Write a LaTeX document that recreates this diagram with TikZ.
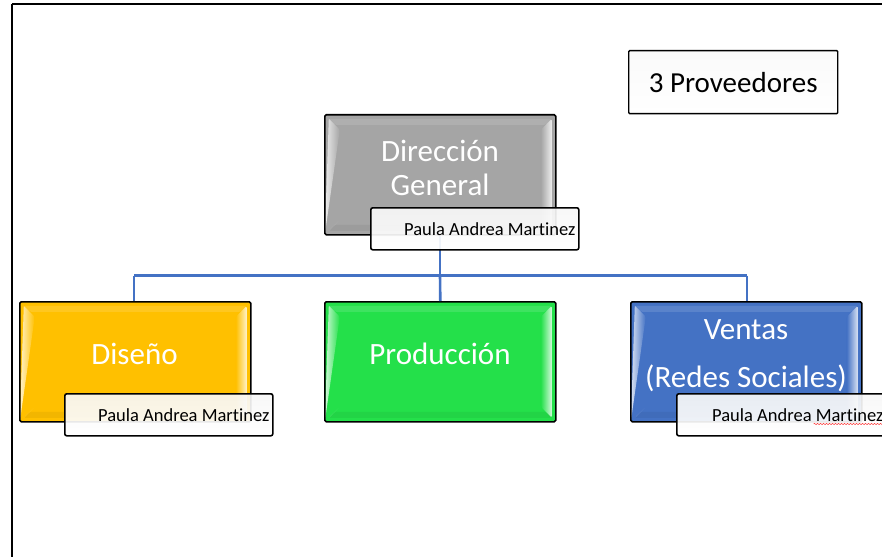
\documentclass[tikz,border=0pt]{standalone}
\usepackage{fontspec}
\setmainfont[Ligatures=NoCommon]{Carlito}
\usetikzlibrary{calc,decorations.pathmorphing}
\definecolor{dgGray}{HTML}{A5A5A5}
\definecolor{dsYellow}{HTML}{FFC000}
\definecolor{prGreen}{HTML}{24E04A}
\definecolor{vtBlue}{HTML}{4472C4}
\definecolor{lineBlue}{HTML}{4472C4}
\tikzset{
  unitbox/.style={draw=black, line width=1.6pt, rounded corners=1.5pt,
    minimum width=231pt, minimum height=120pt, inner sep=0pt,
    text=white, font=\fontsize{31}{48}\selectfont, align=center,
    fill=#1,
    path picture={
      \coordinate (pnw) at (path picture bounding box.north west);
      \coordinate (pse) at (path picture bounding box.south east);
      \shade[left color=white!80!#1, right color=#1]
        ($(pnw)+(4,4)$) -- ($(pnw)+(15,15)$) -- (pnw|-pse) ++(15,-15) -- ++(-11,11) -- cycle;
      \shade[left color=#1, right color=white!80!#1]
        ($(pse|-pnw)+(-4,4)$) -- ($(pse|-pnw)+(-15,15)$) -- ($(pse)+(-15,-15)$) -- ($(pse)+(-4,-4)$) -- cycle;
      \fill[white, opacity=0.12]
        ($(pnw)+(4,4)$) -- ($(pse|-pnw)+(-4,4)$) -- ($(pse|-pnw)+(-10,10)$) -- ($(pnw)+(10,10)$) -- cycle;
      \fill[black, opacity=0.05]
        ($(pnw|-pse)+(4,-4)$) -- ($(pse)+(-4,-4)$) -- ($(pse)+(-10,-10)$) -- ($(pnw|-pse)+(10,-10)$) -- cycle;
    }},
  namebox/.style={draw=black, line width=1.6pt, rounded corners=2pt,
    top color=gray!6, bottom color=white, fill opacity=0.92, text opacity=1,
    minimum width=208pt, minimum height=42pt, inner sep=0pt,
    font=\fontsize{18.5}{22}\selectfont},
  nametext/.style={font=\fontsize{18.5}{22}\selectfont, inner sep=0pt, anchor=east},
  conn/.style={draw=lineBlue, line width=2.6pt},
  provbox/.style={draw=black, line width=1.4pt, rounded corners=1pt, fill=white,
    top color=gray!4, bottom color=white,
    minimum width=209pt, minimum height=63pt, inner sep=0pt,
    font=\fontsize{29}{34}\selectfont}
}
\begin{document}
\begin{tikzpicture}[x=1pt,y=-1pt]
\useasboundingbox (0,0) rectangle (882,556);
\fill[white] (0,0) rectangle (882,556);
\draw[line width=2pt, black] (12,4) -- (900,4);
\draw[line width=2pt, black] (12,4) -- (12,570);

% connectors (drawn first, behind boxes)
\coordinate (bus) at (440,275.5);
\coordinate (busL) at (134,275.5);
\coordinate (busR) at (747,275.5);
\node[unitbox=dgGray, anchor=north west] (dg) at (324,114) {};
\node[unitbox=dsYellow, anchor=north west] (ds) at (19,301) {};
\node[unitbox=prGreen, anchor=north west] (pr) at (324,301) {};
\node[unitbox=vtBlue, anchor=north west] (vt) at (630,301) {};
\draw[conn] (dg.south -| bus) -- (bus);
\draw[conn] (busL) -- (busR);
\draw[conn] (busL) -- (ds.north -| busL);
\draw[conn] (bus) -- (pr.north);
\draw[conn] (busR) -- (vt.north -| busR);

% texts
\node[text=white, font=\fontsize{31}{35}\selectfont, align=center] (dgt) at (440,167.5) {Dirección\\[-1pt]General};
\node[text=white, font=\fontsize{31}{35}\selectfont] (dst) at (134.5,354) {Diseño};
\node[text=white, font=\fontsize{31}{35}\selectfont] (prt) at (440,354) {Producción};
\node[text=white, font=\fontsize{31}{35}\selectfont, align=center] (vtt) at (746,355.5) {Ventas\\[13pt](Redes Sociales)};

% name boxes
\node[namebox, anchor=north west] (dgn) at (370,207) {};
\node[nametext] (dgnt) at ($(dgn.east)+(-4,0.5)$) {Paula Andrea Martinez};
\node[namebox, anchor=north west] (dsn) at (64,393) {};
\node[nametext] (dsnt) at ($(dsn.east)+(-4,0.5)$) {Paula Andrea Martinez};
\node[namebox, anchor=north west] (vtn) at (676,393) {};
\node[nametext] (vtnt) at ($(vtn.east)+(-2,0.5)$) {Paula Andrea Martinez};
\draw[red!80, line width=0.5pt, decorate, decoration={snake, amplitude=0.6pt, segment length=3pt}]
  ($(vtnt.south east)+(-70,2)$) -- ($(vtnt.south east)+(0,2)$);

% provider box
\node[provbox, anchor=north west] (prov) at (628,50) {3 Proveedores};
\end{tikzpicture}
\end{document}
